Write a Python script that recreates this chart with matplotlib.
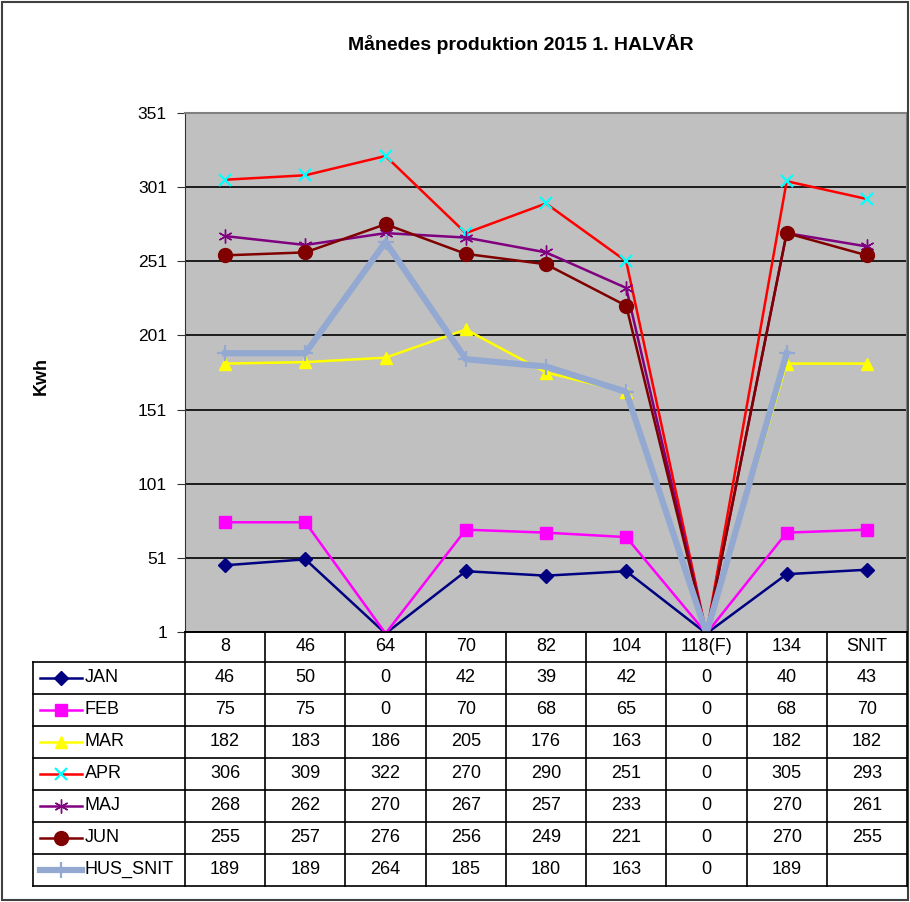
import matplotlib
import matplotlib.pyplot as plt
import numpy as np
from matplotlib.lines import Line2D
from matplotlib.patches import Rectangle
from matplotlib.transforms import blended_transform_factory

matplotlib.use("Agg")
plt.rcParams["font.family"] = ["Liberation Sans", "DejaVu Sans"]

# data
categories = ["8", "46", "64", "70", "82", "104", "118(F)", "134", "SNIT"]
jan = [46, 50, 0, 42, 39, 42, 0, 40, 43]
feb = [75, 75, 0, 70, 68, 65, 0, 68, 70]
mar = [182, 183, 186, 205, 176, 163, 0, 182, 182]
apr = [306, 309, 322, 270, 290, 251, 0, 305, 293]
maj = [268, 262, 270, 267, 257, 233, 0, 270, 261]
jun = [255, 257, 276, 256, 249, 221, 0, 270, 255]
hus_snit = [189, 189, 264, 185, 180, 163, 0, 189, None]
series_names = ["JAN", "FEB", "MAR", "APR", "MAJ", "JUN", "HUS_SNIT"]
y_ticks = [1, 51, 101, 151, 201, 251, 301, 351]

series = [jan, feb, mar, apr, maj, jun, hus_snit]
styles = [
    dict(color="#000080", marker="D", ms=7, mfc="#000080", mec="#000080", lw=1.8),
    dict(color="#FF00FF", marker="s", ms=9, mfc="#FF00FF", mec="#FF00FF", lw=1.8),
    dict(color="#FFFF00", marker="^", ms=9, mfc="#FFFF00", mec="#FFFF00", lw=1.8),
    dict(color="#FF0000", marker="x", ms=8, mfc="#00FFFF", mec="#00FFFF", mew=1.6, lw=1.8),
    dict(color="#800080", marker=(6, 2, 0), ms=10, mfc="#800080", mec="#800080", mew=1.0, lw=1.8),
    dict(color="#800000", marker="o", ms=10, mfc="#800000", mec="#800000", lw=1.8),
    dict(color="#94A9D1", marker="+", ms=12, mfc="#94A9D1", mec="#94A9D1", mew=1.6, lw=4.5),
]

W, H = 910, 902
fig = plt.figure(figsize=(W / 100, H / 100), dpi=100)
ax = fig.add_axes([185 / W, 1 - 632 / H, 722 / W, 519 / H])

x = np.arange(len(categories))
ymin, ymax = y_ticks[0], y_ticks[-1]
for vals, st in zip(series, styles):
    y = np.array([np.nan if v is None else v for v in vals], dtype=float)
    # markers only for points inside the plot area
    inside = [i for i, v in enumerate(y) if not np.isnan(v) and v >= ymin]
    ax.plot(x, y, markevery=inside, **st, zorder=3)

ax.set_xlim(-0.5, len(categories) - 0.5)
ax.set_ylim(ymin, ymax)
ax.set_yticks(y_ticks)
ax.set_xticks([])
ax.set_facecolor("#C0C0C0")
ax.grid(axis="y", color="black", lw=1.2, zorder=1)
ax.set_axisbelow(True)
ax.tick_params(axis="y", labelsize=12.5, length=6, direction="out", color="#333333", pad=7)
for s in ["top", "right"]:
    ax.spines[s].set_color("#808080")
    ax.spines[s].set_linewidth(1.5)
ax.spines["left"].set_color("#333333")
ax.spines["bottom"].set_color("black")
ax.spines["bottom"].set_linewidth(1.2)

fig.text(521 / W, 1 - 44 / H, "Månedes produktion 2015 1. HALVÅR",
         ha="center", va="center", fontsize=14, fontweight="bold")
fig.text(41 / W, 1 - 376 / H, "Kwh", rotation=90, ha="center", va="center",
         fontsize=13, fontweight="bold")

# data table below the axes
tr = blended_transform_factory(ax.transData, fig.transFigure)
trf = fig.transFigure
row_px = [632, 661.5] + [661.5 + 32 * (i + 1) for i in range(len(series))]
row_y = [1 - p / H for p in row_px]
x_left, x_right = -0.5, len(categories) - 0.5
lk = dict(color="black", lw=1.2, clip_on=False)
fs = 13

# header row (category labels)
for i, c in enumerate(categories):
    fig.text(i, (row_y[0] + row_y[1]) / 2, c, transform=tr, ha="center",
             va="center", fontsize=fs)
# vertical lines
for i in range(len(categories) + 1):
    fig.add_artist(Line2D([i - 0.5, i - 0.5], [row_y[0], row_y[-1]], transform=tr, **lk))
fig.add_artist(Line2D([33 / W, 33 / W], [row_y[1], row_y[-1]], transform=trf, **lk))
# horizontal lines
fig.add_artist(Line2D([x_left, x_right], [row_y[0], row_y[0]], transform=tr, **lk))
for yy in row_y[1:]:
    fig.add_artist(Line2D([33 / W, 907 / W], [yy, yy], transform=trf, **lk))

for r, (name, vals, st) in enumerate(zip(series_names, series, styles)):
    yc = (row_y[r + 1] + row_y[r + 2]) / 2
    fig.add_artist(Line2D([40 / W, 82 / W], [yc, yc], transform=trf, color=st["color"],
                          lw=st["lw"], clip_on=False))
    fig.add_artist(Line2D([61 / W], [yc], transform=trf, ls="none", marker=st["marker"],
                          ms=st["ms"], mfc=st["mfc"], mec=st["mec"], mew=st.get("mew", 1),
                          clip_on=False))
    fig.text(85 / W, yc, name, ha="left", va="center", fontsize=fs)
    for i, v in enumerate(vals):
        if v is not None:
            fig.text(i, yc, str(v), transform=tr, ha="center", va="center", fontsize=fs)

# outer chart border
fig.add_artist(Rectangle((1.5 / W, 2 / H), 906 / W, 898.5 / H, transform=trf,
                         fill=False, ec="#404040", lw=1.5))

fig.savefig("out.png", dpi=100)
